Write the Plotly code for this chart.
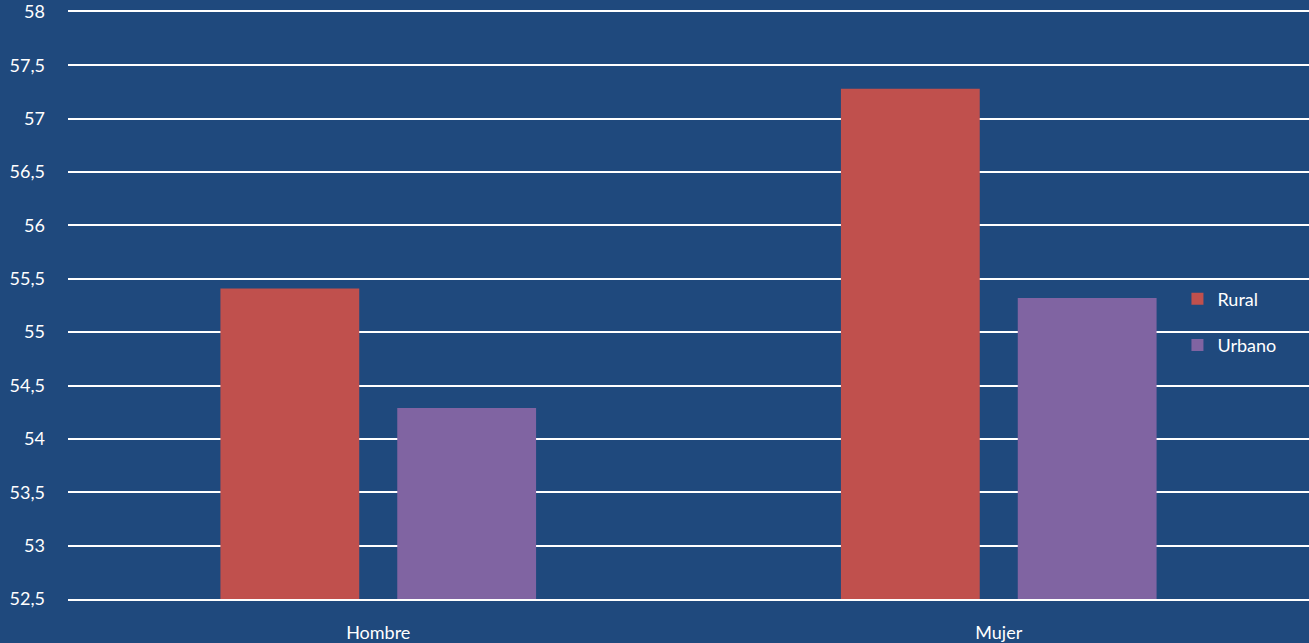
import plotly.graph_objects as go

categories = ["Hombre", "Mujer"]
rural = [55.41, 57.28]
urbano = [54.29, 55.32]
tick_vals = [52.5, 53, 53.5, 54, 54.5, 55, 55.5, 56, 56.5, 57, 57.5, 58]
tick_text = ["52,5", "53", "53,5", "54", "54,5", "55", "55,5", "56", "56,5", "57", "57,5", "58"]

BG = "#1F497D"
FONT = "Lato"

fig = go.Figure()
fig.add_trace(go.Bar(x=categories, y=rural, name="Rural", marker_color="#C0504D",
                     marker_line_width=0, legendgroup="r"))
fig.add_trace(go.Bar(x=categories, y=urbano, name="Urbano", marker_color="#8064A2",
                     marker_line_width=0, legendgroup="u"))

fig.update_layout(
    width=1309, height=643,
    paper_bgcolor=BG, plot_bgcolor=BG,
    margin=dict(l=68, r=0, t=12, b=44),
    barmode="group", bargap=0.43, bargroupgap=0.215,
    font=dict(family=FONT, size=18, color="white"),
    legend=dict(x=0.894, y=0.472, xanchor="left", yanchor="middle",
                bgcolor="rgba(0,0,0,0)", font=dict(size=18, color="white"),
                traceorder="grouped", tracegroupgap=20, itemwidth=30),
    xaxis=dict(showgrid=False, zeroline=False, showline=True, mirror=True,
               linecolor="white", linewidth=1.5, ticks="",
               tickfont=dict(size=18, color="white"), ticklabelstandoff=17),
    yaxis=dict(range=[52.5, 58], tickvals=tick_vals, ticktext=tick_text,
               showgrid=True, gridcolor="white", gridwidth=1.5,
               zeroline=False, showline=False, ticks="",
               tickfont=dict(size=18, color="white"), ticklabelstandoff=22),
)
fig.write_html("out.html", config={"displayModeBar": False},
               post_script="document.body.style.margin='0';document.body.style.background='%s';" % BG)
